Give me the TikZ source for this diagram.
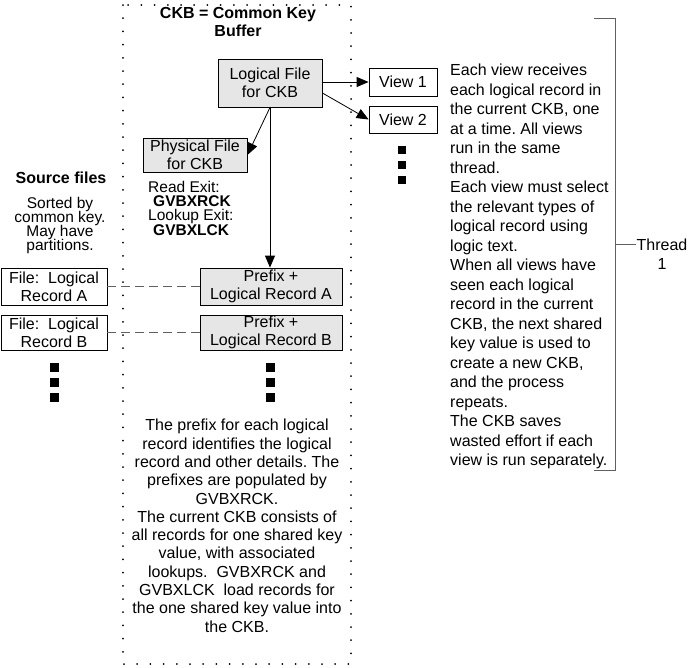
\documentclass[tikz,border=0pt]{standalone}
\usepackage{fontspec}
\setmainfont{Liberation Sans}
\usetikzlibrary{arrows.meta}
\definecolor{boxgray}{HTML}{E6E6E6}
\definecolor{linegray}{HTML}{606060}
\newcommand\mytightlines{\lineskiplimit=-20pt\relax}
\tikzset{
  txt/.style={font=\fontsize{16}{18}\selectfont, inner sep=0pt},
  gbox/.style={draw=black, line width=0.8pt, fill=boxgray, inner sep=0pt, align=center, font=\fontsize{16}{18}\selectfont},
  wbox/.style={draw=black, line width=0.8pt, fill=white, inner sep=0pt, align=center, font=\fontsize{16}{18}\selectfont},
  arr/.style={draw=black, line width=0.8pt, -{Triangle[length=12pt,width=10pt]}},
  dashline/.style={draw=linegray, line width=1pt, dash pattern=on 9pt off 5pt},
  dotborder/.style={draw=black, line width=2pt, line cap=round, dash pattern=on 0pt off 13.2pt},
  sq/.style={fill=black},
}
\begin{document}
\frenchspacing
\begin{tikzpicture}[x=1pt,y=-1pt]
\useasboundingbox (0,0) rectangle (693,667);
\fill[white] (0,0) rectangle (693,667);
% dotted CKB region
\draw[dotborder] (123,5) rectangle (351,664);
\node[txt, align=center, font=\bfseries\fontsize{16}{18}\selectfont] (title) at (238,22) {CKB = Common Key\\Buffer};
% boxes
\node[gbox, minimum width=104pt, minimum height=48pt] (lf) at (270,83) {Logical File\\for CKB};
\node[wbox, minimum width=68pt, minimum height=28pt] (v1) at (403,82) {View 1};
\node[wbox, minimum width=68pt, minimum height=27pt] (v2) at (403,119.5) {View 2};
\node[gbox, minimum width=104pt, minimum height=34pt] (pf) at (195,155) {Physical File\\for CKB};
\node[txt, align=left, anchor=north west, font=\fontsize{15.5}{14.2}\selectfont\mytightlines] (exits) at (148,181) {Read Exit:\\\hspace*{5pt}\textbf{GVBXRCK}\\Lookup Exit:\\\hspace*{5pt}\textbf{GVBXLCK}};
\node[wbox, minimum width=106pt, minimum height=37pt] (fa) at (54,286.5) {File:\ \ Logical\\Record A};
\node[wbox, minimum width=106pt, minimum height=35pt] (fb) at (54,332.5) {File:\ \ Logical\\Record B};
\node[gbox, minimum width=142pt, minimum height=37pt] (pa) at (271,286.5) {Prefix +\\Logical Record A};
\node[gbox, minimum width=142pt, minimum height=35pt] (pb) at (271,332.5) {Prefix +\\Logical Record B};
% source files
\node[txt, font=\bfseries\fontsize{16}{18}\selectfont] (src) at (61,178) {Source files};
\node[txt, align=center, anchor=north, font=\fontsize{15.5}{14}\selectfont\mytightlines] (srcnote) at (60,197) {Sorted by\\common key.\\May have\\partitions.};
% connectors
\draw[arr] (lf.east |- v1.west) -- (v1.west);
\draw[arr] ([yshift=-10pt]lf.east) -- (v2.west);
\draw[arr] (lf.south) -- (pf.east);
\draw[arr] (lf.south) -- (lf.south |- pa.north);
\draw[dashline] (fa.east) -- (pa.west);
\draw[dashline] (fb.east) -- (pb.west);
% ellipsis squares
\foreach \yy in {150,165,180} { \fill[sq] (398,\yy-4) rectangle (406,\yy+4); }
\foreach \yy in {367,382,397} {
  \fill[sq] (49.5,\yy-4.5) rectangle (58.5,\yy+4.5);
  \fill[sq] (265.5,\yy-4.5) rectangle (274.5,\yy+4.5);
}
% bottom note
\node[txt, align=center, anchor=north, font=\fontsize{16}{18.3}\selectfont] (note) at (237,419) {The prefix for each logical\\record identifies the logical\\record and other details. The\\prefixes are populated by\\GVBXRCK.\\The current CKB consists of\\all records for one shared key\\value, with associated\\lookups.\ \ GVBXRCK and\\GVBXLCK\ \ load records for\\the one shared key value into\\the CKB.};
% right text
\node[txt, align=left, anchor=north west, font=\fontsize{16}{19.5}\selectfont] (desc) at (450,64) {Each view receives\\each logical record in\\the current CKB, one\\at a time. All views\\run in the same\\thread.\\Each view must select\\the relevant types of\\logical record using\\logic text.\\When all views have\\seen each logical\\record in the current\\CKB, the next shared\\key value is used to\\create a new CKB,\\and the process\\repeats.\\The CKB saves\\wasted effort if each\\view is run separately.};
% bracket
\coordinate (bt) at (594,18);
\coordinate (bb) at (594,470);
\coordinate (bm) at (615,244);
\draw[draw=linegray, line width=1pt] (bt) -- (615,18) -- (615,470) -- (bb);
\node[txt, align=center, font=\fontsize{16}{19}\selectfont] (thread) at (662,254) {Thread\\1};
\draw[draw=linegray, line width=1pt] (bm) -- (thread.west |- bm);
\end{tikzpicture}
\end{document}
